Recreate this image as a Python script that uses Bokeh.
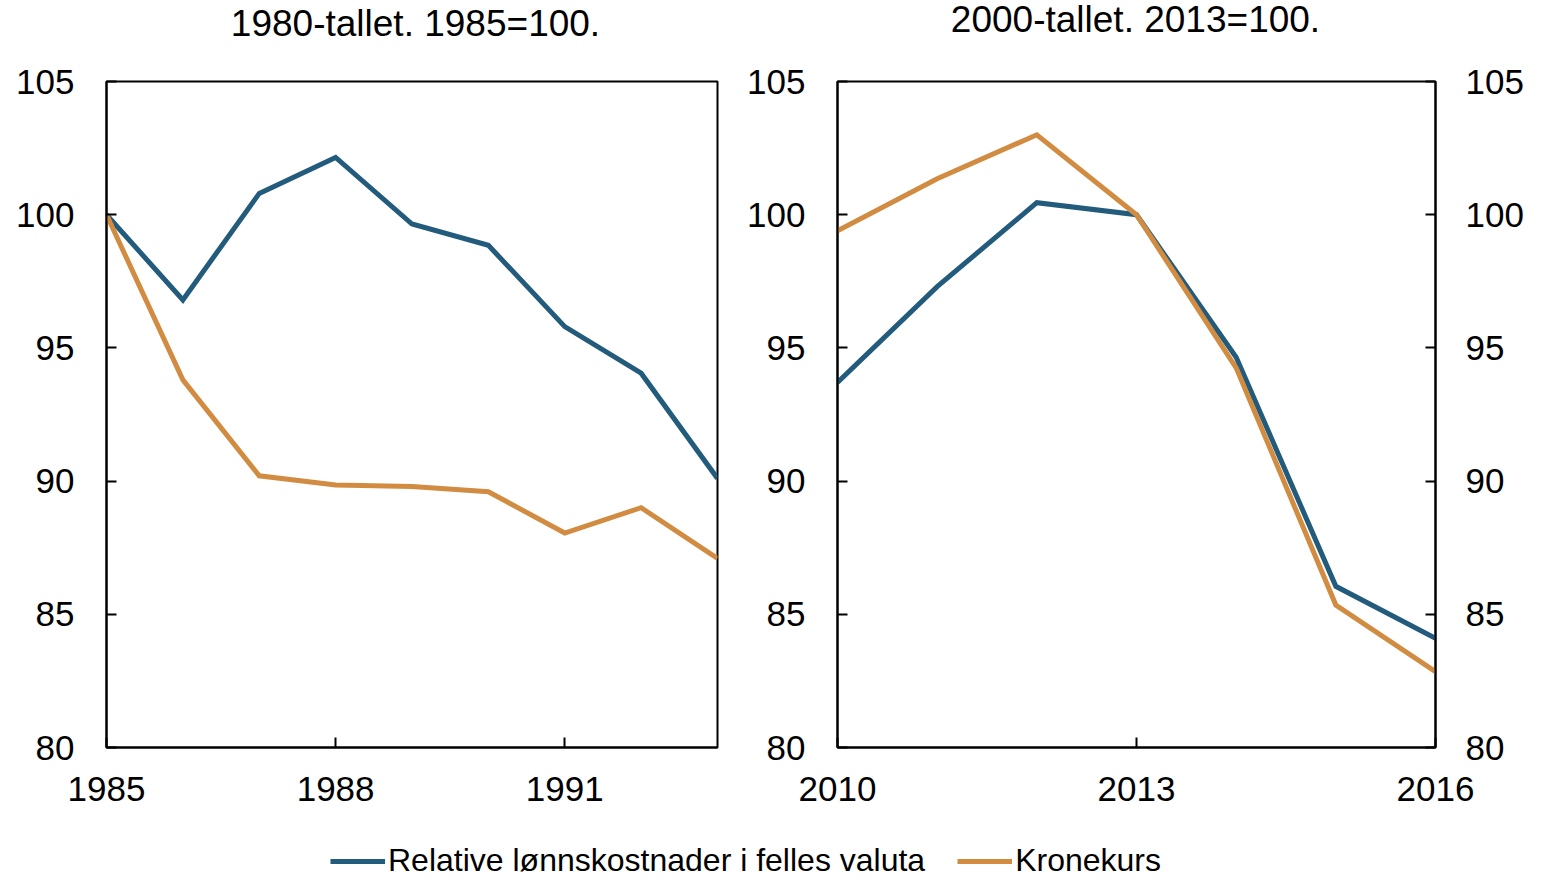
from bokeh.plotting import figure
from bokeh.models import LinearAxis, Range1d, FixedTicker, Legend, LegendItem, Label
from bokeh.layouts import column, row
from bokeh.embed import file_html
from bokeh.resources import INLINE

# ---- data ----
years_80 = [1985, 1986, 1987, 1988, 1989, 1990, 1991, 1992, 1993]
wage_80 = [100.0, 96.8, 100.8, 102.15, 99.65, 98.85, 95.8, 94.05, 90.1]
krone_80 = [100.0, 93.8, 90.2, 89.85, 89.8, 89.6, 88.05, 89.0, 87.1]

years_10 = [2010, 2011, 2012, 2013, 2014, 2015, 2016]
wage_10 = [93.7, 97.3, 100.45, 100.0, 94.65, 86.05, 84.1]
krone_10 = [99.4, 101.35, 103.0, 100.0, 94.25, 85.35, 82.85]

y_ticks = [80, 85, 90, 95, 100, 105]
x_ticks_80 = [1985, 1988, 1991]
x_ticks_10 = [2010, 2013, 2016]

titles = ["1980-tallet. 1985=100.", "2000-tallet. 2013=100."]
series_names = ["Relative lønnskostnader i felles valuta", "Kronekurs"]
BLUE = "#225b7b"
ORANGE = "#d28c41"
FONT = "Liberation Sans"
TICK_SIZE = "35px"

TOTAL_W = 1527
HEADER_H = 45
PANEL_H = 774
LEGEND_H = 60
W1 = 737
W2 = TOTAL_W - W1


def style_axis(ax, standoff):
    ax.axis_line_width = 2
    ax.axis_line_color = "black"
    ax.major_tick_line_width = 2
    ax.major_tick_line_color = "black"
    ax.major_tick_in = 10
    ax.major_tick_out = 0
    ax.minor_tick_in = 0
    ax.minor_tick_out = 0
    ax.major_label_text_font = FONT
    ax.major_label_text_font_size = TICK_SIZE
    ax.major_label_text_color = "black"
    ax.major_label_standoff = standoff


def panel(xs, a, b, xr, xticks, bl, br, width, right_axis):
    p = figure(width=width, height=PANEL_H,
               x_range=Range1d(*xr), y_range=Range1d(80, 105),
               output_backend="svg", toolbar_location=None,
               min_border_left=bl, min_border_right=br,
               min_border_top=36, min_border_bottom=72)
    p.grid.visible = False
    p.outline_line_color = "black"
    p.outline_line_width = 2
    p.outline_line_alpha = 1
    p.background_fill_color = "white"
    p.border_fill_color = "white"
    p.xaxis.ticker = FixedTicker(ticks=xticks)
    p.yaxis.ticker = FixedTicker(ticks=y_ticks)
    for ax in p.xaxis:
        style_axis(ax, 29)
    for ax in p.yaxis:
        style_axis(ax, 32)
    if right_axis:
        ax = LinearAxis(ticker=FixedTicker(ticks=y_ticks))
        style_axis(ax, 30)
        p.add_layout(ax, "right")
    p.line(xs, a, line_color=BLUE, line_width=5, line_join="miter")
    p.line(xs, b, line_color=ORANGE, line_width=5, line_join="miter")
    return p


# header with the two panel titles
hf = figure(width=TOTAL_W, height=HEADER_H, x_range=Range1d(0, TOTAL_W),
            y_range=Range1d(0, HEADER_H), output_backend="svg",
            toolbar_location=None, min_border=0,
            x_axis_location=None, y_axis_location=None)
hf.outline_line_color = None
hf.grid.visible = False
for tx, ty, t in [(415, 22, titles[0]), (1135, 26, titles[1])]:
    hf.add_layout(Label(x=tx, y=ty, text=t, text_align="center",
                        text_baseline="middle", text_font=FONT,
                        text_font_size="37px", text_color="black"))

p1 = panel(years_80, wage_80, krone_80, (1985, 1993), x_ticks_80,
           106, 20, W1, False)
p2 = panel(years_10, wage_10, krone_10, (2010, 2016), x_ticks_10,
           100, W2 - 100 - 598, W2, True)

lf = figure(width=TOTAL_W, height=LEGEND_H, x_range=Range1d(0, 1), y_range=Range1d(0, 1),
            output_backend="svg", toolbar_location=None, min_border=0,
            x_axis_location=None, y_axis_location=None)
lf.outline_line_color = None
lf.grid.visible = False
r1 = lf.line(years_80, wage_80, line_color=BLUE, line_width=5)
r2 = lf.line(years_80, krone_80, line_color=ORANGE, line_width=5)
legend = Legend(items=[LegendItem(label=series_names[0], renderers=[r1]),
                       LegendItem(label=series_names[1], renderers=[r2])],
                location=(330, 0), orientation="horizontal",
                glyph_width=55, glyph_height=20, label_standoff=3, spacing=32,
                padding=0, margin=0, border_line_color=None,
                background_fill_alpha=0,
                label_text_font=FONT, label_text_font_size="32px",
                label_text_color="black")
lf.add_layout(legend)

layout = column(hf, row(p1, p2), lf)
open("out.html", "w").write(file_html(layout, INLINE))
